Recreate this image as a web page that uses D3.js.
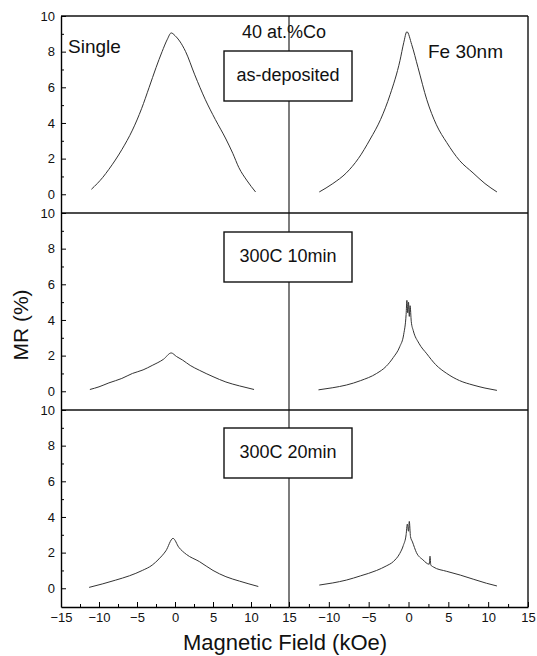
<!DOCTYPE html>
<html>
<head>
<meta charset="utf-8">
<script src="https://cdn.jsdelivr.net/npm/d3@7"></script>
<style>
    body { margin: 0; background: #fff; }
    text { font-family: Arial, "Liberation Sans", sans-serif; fill: #111; }
</style>
</head>
<body>
<div id="chart"></div>
<script>
// tick values
const fieldTicks = [-15, -10, -5, 0, 5, 10, 15];
const fieldMinor = [-12.5, -7.5, -2.5, 2.5, 7.5, 12.5];
const mrTicks = [0, 2, 4, 6, 8, 10];
const mrMinor = [1, 3, 5, 7, 9];

const panelLabels = ["as-deposited", "300C 10min", "300C 20min"];

// [field (kOe), MR (%)], left half = Single
const singleAsDep = [[-11, 0.28], [-9.5, 0.95], [-8.7, 1.4], [-7, 2.5], [-5.6, 3.6], [-4.4, 4.8], [-3.4, 6.0],
    [-2.5, 7.1], [-1.7, 8.0], [-1.0, 8.7], [-0.5, 9.05], [0, 8.9], [0.6, 8.6], [1.4, 8.0], [2.6, 6.7],
    [4.0, 5.3], [5.3, 4.2], [6.7, 3.1], [7.6, 2.3], [8.4, 1.5], [9.5, 0.75], [10.6, 0.13]];
const single10 = [[-11.2, 0.1], [-10, 0.25], [-8.7, 0.47], [-7, 0.72], [-5.6, 1.0], [-4.2, 1.2], [-3, 1.45],
    [-1.5, 1.8], [-0.5, 2.15], [0.2, 1.95], [1, 1.75], [2, 1.45], [3.2, 1.18], [5, 0.82], [6.7, 0.52],
    [8.5, 0.3], [10.4, 0.1]];
const single20 = [[-11.3, 0.05], [-9.5, 0.25], [-7.8, 0.46], [-6, 0.7], [-4.3, 1.0], [-3, 1.3], [-2.1, 1.65],
    [-1.2, 2.1], [-0.26, 2.8], [0.5, 2.3], [1.5, 1.9], [3.2, 1.5], [5, 1.0], [6.7, 0.65], [8.5, 0.4],
    [10.96, 0.1]];

// right half = Fe 30nm
const feAsDep = [[-11.2, 0.13], [-9.5, 0.6], [-7.8, 1.2], [-6.3, 2.0], [-4.8, 3.1], [-3.5, 4.2], [-2.3, 5.6],
    [-1.07, 7.5], [-0.6, 8.5], [-0.2, 9.12], [0.4, 8.4], [1.2, 7.1], [2.3, 5.3], [3.5, 3.9], [4.8, 2.9],
    [6.4, 1.9], [8.1, 1.2], [9.6, 0.6], [11.1, 0.13]];
const fe10 = [[-11.3, 0.08], [-9.5, 0.2], [-7.8, 0.35], [-6, 0.6], [-4.0, 1.0], [-2.8, 1.4], [-1.9, 1.9],
    [-1.1, 2.5], [-0.6, 3.2], [-0.3, 4.3], [-0.2, 5.1], [-0.1, 4.4], [0, 5.0], [0.1, 4.2], [0.2, 4.8],
    [0.35, 3.9], [0.6, 3.4], [1.3, 2.7], [2.3, 2.1], [3.4, 1.5], [4.8, 1.0], [6.4, 0.6], [8.1, 0.35],
    [9.6, 0.18], [11.1, 0.05]];
const fe20 = [[-11.2, 0.18], [-9.5, 0.3], [-7.8, 0.46], [-6, 0.7], [-4.0, 1.0], [-2.8, 1.25], [-1.9, 1.5],
    [-1.1, 1.95], [-0.65, 2.4], [-0.3, 3.0], [-0.15, 3.6], [0, 3.2], [0.1, 3.75], [0.25, 2.9], [0.5, 2.6],
    [1.0, 2.0], [1.8, 1.6], [2.6, 1.35], [2.7, 1.8], [2.8, 1.3], [3.1, 1.2], [4.8, 0.95], [6.5, 0.74],
    [8.2, 0.5], [9.8, 0.28], [11.1, 0.13]];

const singleCurves = [singleAsDep, single10, single20];
const feCurves = [feAsDep, fe10, fe20];

const width = 537;
const height = 656;
const plot = { left: 61, right: 528, top: 16, bottom: 607 };
const split = 289;
const panelHeight = (plot.bottom - plot.top) / 3;

const svg = d3.select("#chart")
    .append("svg")
        .attr("width", width)
        .attr("height", height);

const xLeft = d3.scaleLinear().domain([-15, 15]).range([plot.left, split]);
const xRight = d3.scaleLinear().domain([-15, 15]).range([split, plot.right]);

const line = (x, y) => d3.line().x(d => x(d[0])).y(d => y(d[1])).curve(d3.curveMonotoneX);

const frame = svg.append("g")
    .attr("stroke", "#111")
    .attr("stroke-width", 1.4);

// top edge, right edge and the divider between both halves
frame.append("line").attr("x1", plot.left).attr("x2", plot.right).attr("y1", plot.top).attr("y2", plot.top);
frame.append("line").attr("x1", plot.right).attr("x2", plot.right).attr("y1", plot.top).attr("y2", plot.bottom);
frame.append("line").attr("x1", split).attr("x2", split).attr("y1", plot.top).attr("y2", plot.bottom)
    .attr("stroke-width", 1.1);

panelLabels.forEach((label, i) => {
    const top = plot.top + i * panelHeight;
    const y = d3.scaleLinear().domain([-1.05, 10]).range([top + panelHeight, top]);

    // panel separator
    if (i > 0) {
        frame.append("line").attr("x1", plot.left).attr("x2", plot.right).attr("y1", top).attr("y2", top);
    }

    const yAxis = svg.append("g")
        .attr("transform", `translate(${plot.left},0)`)
        .call(d3.axisLeft(y).tickValues(mrTicks).tickSizeInner(-5).tickSizeOuter(0).tickPadding(6));
    svg.append("g")
        .attr("transform", `translate(${plot.left},0)`)
        .call(d3.axisLeft(y).tickValues(mrMinor).tickSizeInner(-3).tickSizeOuter(0).tickFormat(""))
        .select(".domain").remove();
    yAxis.select(".domain").attr("stroke-width", 1.4);
    yAxis.selectAll("text").style("font-size", "13px").attr("fill", "#111");

    svg.append("path")
        .datum(singleCurves[i])
        .attr("fill", "none")
        .attr("stroke", "#333")
        .attr("stroke-width", 1)
        .attr("d", line(xLeft, y));

    svg.append("path")
        .datum(feCurves[i])
        .attr("fill", "none")
        .attr("stroke", "#333")
        .attr("stroke-width", 1)
        .attr("d", line(xRight, y));

    // label box in the middle
    const boxTop = top + [35, 19, 18][i];
    svg.append("rect")
        .attr("x", 224)
        .attr("y", boxTop)
        .attr("width", 128)
        .attr("height", 50)
        .attr("fill", "#fff")
        .attr("stroke", "#111")
        .attr("stroke-width", 1.4);
    svg.append("text")
        .attr("x", 288)
        .attr("y", boxTop + 30)
        .attr("text-anchor", "middle")
        .style("font-size", "18px")
        .text(label);
});

// bottom x axes
const axisLeftX = svg.append("g")
    .attr("transform", `translate(0,${plot.bottom})`)
    .call(d3.axisBottom(xLeft).tickValues(fieldTicks).tickSizeInner(-5).tickSizeOuter(0).tickPadding(6));
const axisRightX = svg.append("g")
    .attr("transform", `translate(0,${plot.bottom})`)
    .call(d3.axisBottom(xRight).tickValues(fieldTicks.slice(1)).tickSizeInner(-5).tickSizeOuter(0).tickPadding(6));
[xLeft, xRight].forEach(x => {
    svg.append("g")
        .attr("transform", `translate(0,${plot.bottom})`)
        .call(d3.axisBottom(x).tickValues(fieldMinor).tickSizeInner(-3).tickSizeOuter(0).tickFormat(""))
        .select(".domain").remove();
});
[axisLeftX, axisRightX].forEach(a => {
    a.select(".domain").attr("stroke-width", 1.4);
    a.selectAll("text").style("font-size", "13px").attr("fill", "#111");
});

// annotations
svg.append("text").attr("x", 68).attr("y", 53).style("font-size", "19px").text("Single");
svg.append("text").attr("x", 242).attr("y", 38).style("font-size", "18px").text("40 at.%Co");
svg.append("text").attr("x", 428).attr("y", 58).style("font-size", "19px").text("Fe 30nm");

// axis titles
svg.append("text")
    .attr("transform", "translate(28,325) rotate(-90)")
    .attr("text-anchor", "middle")
    .style("font-size", "21px")
    .text("MR (%)");

svg.append("text")
    .attr("x", 285)
    .attr("y", 650)
    .attr("text-anchor", "middle")
    .style("font-size", "22px")
    .text("Magnetic Field (kOe)");
</script>
</body>
</html>
